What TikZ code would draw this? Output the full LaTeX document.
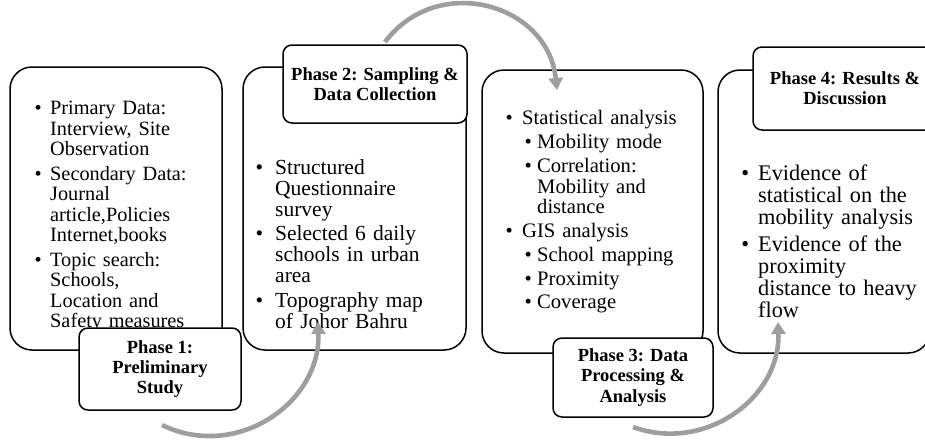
\documentclass[tikz,border=0pt]{standalone}
\usepackage{fontspec}
\setmainfont{Liberation Serif}
\usepackage{enumitem}
\usetikzlibrary{arrows.meta, positioning}

\definecolor{arrowgray}{HTML}{9E9E9E}
\setlist[itemize]{nosep, label=\textbullet, leftmargin=20pt}

\begin{document}
\begin{tikzpicture}[
    x=1pt, y=1pt,
    panel/.style={draw, line width=1.5pt, rounded corners=22pt, fill=white, anchor=north west, outer sep=0pt, inner sep=0pt},
    phase/.style={draw, line width=1.5pt, rounded corners=9pt, fill=white, align=center, outer sep=0pt, inner sep=0pt, font=\bfseries\fontsize{18.5}{20.3}\selectfont},
    items/.style={anchor=north west, inner sep=0pt, text width=#1},
    flow/.style={line width=4.6pt, draw=arrowgray, -{Triangle[length=12pt, width=14pt]}}
]

\useasboundingbox (0,0) rectangle (925,-439);

% ============ PANELS ============
\node[panel, minimum width=212pt, minimum height=283pt] (b1) at (10,-67) {};
\node[panel, minimum width=223pt, minimum height=283pt] (b2) at (243,-67) {};
\node[panel, minimum width=221pt, minimum height=283pt] (b3) at (482,-70) {};
\node[panel, minimum width=212pt, minimum height=283pt] (b4) at (718,-70) {};

% ============ PANEL CONTENTS ============
\node[items=190pt, font=\fontsize{20.3}{20.5}\selectfont] (t1) at (30,-94) {%
\begin{itemize}[labelsep=8.5pt, itemsep=4pt]
  \item Primary Data:\\Interview, Site\\Observation
  \item Secondary Data:\\Journal\\article,Policies\\Internet,books
  \item Topic search:\\Schools,\\Location and\\Safety measures
\end{itemize}};

\node[items=200pt, font=\fontsize{21.5}{21}\selectfont] (t2) at (255,-153) {%
\begin{itemize}[labelsep=12pt, itemsep=3.5pt]
  \item Structured\\Questionnaire\\survey
  \item Selected 6 daily\\schools in urban\\area
  \item Topography map\\of Johor Bahru
\end{itemize}};

\node[items=195pt, font=\fontsize{20.6}{20.6}\selectfont] (t3) at (502,-104) {%
\begin{itemize}[labelsep=9.4pt, itemsep=3.2pt]
  \item Statistical analysis
  \begin{itemize}[leftmargin=15pt, labelsep=5.4pt, itemsep=3.2pt, topsep=3.2pt]
    \item Mobility mode
    \item Correlation:\\Mobility and\\distance
  \end{itemize}
  \item GIS analysis
  \begin{itemize}[leftmargin=15pt, labelsep=5.4pt, itemsep=3.2pt, topsep=3.2pt]
    \item School mapping
    \item Proximity
    \item Coverage
  \end{itemize}
\end{itemize}};

\node[items=195pt, font=\fontsize{22.3}{22}\selectfont] (t4) at (738,-158) {%
\begin{itemize}[labelsep=9.1pt, itemsep=5pt]
  \item Evidence of\\statistical on the\\mobility analysis
  \item Evidence of the\\proximity\\distance to heavy\\flow
\end{itemize}};

% ============ PHASE LABELS ============
\node[phase, minimum width=162pt, minimum height=82pt] (p1) at (160,-369) {Phase 1:\\Preliminary\\Study};
\node[phase, minimum width=184pt, minimum height=78pt] (p2) at (375,-84) {Phase 2: Sampling \&\\Data Collection};
\node[phase, minimum width=160pt, minimum height=79pt] (p3) at (633,-377.5) {Phase 3: Data\\Processing \&\\Analysis};
\node[phase, minimum width=184pt, minimum height=83pt] (p4) at (845,-88.5) {Phase 4: Results \&\\Discussion};

% ============ FLOW ARROWS ============
\coordinate (a1s) at (162,-425);
\coordinate (a1e) at (318,-322);
\coordinate (a2s) at (385,-42);
\coordinate (a2e) at (557,-90);
\coordinate (a3s) at (633,-427);
\coordinate (a3e) at (778,-322);

\foreach \s/\e/\o/\i/\l in {a1s/a1e/-26/-88/1.12, a2s/a2e/53/96/1.25, a3s/a3e/-20/-88/1.09}
    \draw[flow] (\s) to[out=\o, in=\i, looseness=\l] (\e);

\end{tikzpicture}
\end{document}
